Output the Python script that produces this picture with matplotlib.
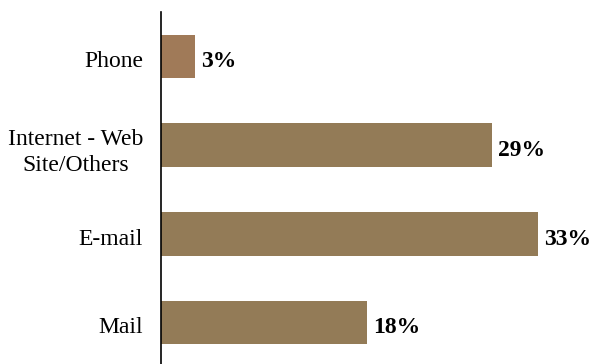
import matplotlib
matplotlib.use("Agg")
import matplotlib.pyplot as plt
import matplotlib.transforms as mtransforms

categories = ["Phone", "Internet - Web\nSite/Others", "E-mail", "Mail"]
values = [3, 29, 33, 18]
colors = ["#A07A58", "#937B57", "#937B57", "#937B57"]

plt.rcParams["font.family"] = ["Liberation Serif", "DejaVu Serif"]

fig = plt.figure(figsize=(5.93, 3.64), dpi=100)
ax = fig.add_axes([0.2715, -0.008, 0.728, 0.975])

pos = list(range(len(categories)))
ax.barh(pos, values, height=0.49, color=colors)
ax.set_ylim(len(categories) - 0.5, -0.5)
ax.set_xlim(0, 37.8)

for p, v in zip(pos, values):
    ax.text(v + 0.55, p + 0.06, f"{v}%", va="center", ha="left",
            fontsize=17, fontweight="bold")

ax.set_yticks(pos)
ax.set_yticklabels(categories, fontsize=17, linespacing=1.3,
                   multialignment="center")
ax.tick_params(axis="y", length=0, pad=13)
# nudge category labels down a little
shift = mtransforms.ScaledTranslation(0, -2 / 72, fig.dpi_scale_trans)
for lbl in ax.get_yticklabels():
    lbl.set_transform(lbl.get_transform() + shift)
ax.set_xticks([])
for s in ["top", "right", "bottom"]:
    ax.spines[s].set_visible(False)
ax.spines["left"].set_linewidth(1.2)

fig.savefig("out.png", dpi=100)
